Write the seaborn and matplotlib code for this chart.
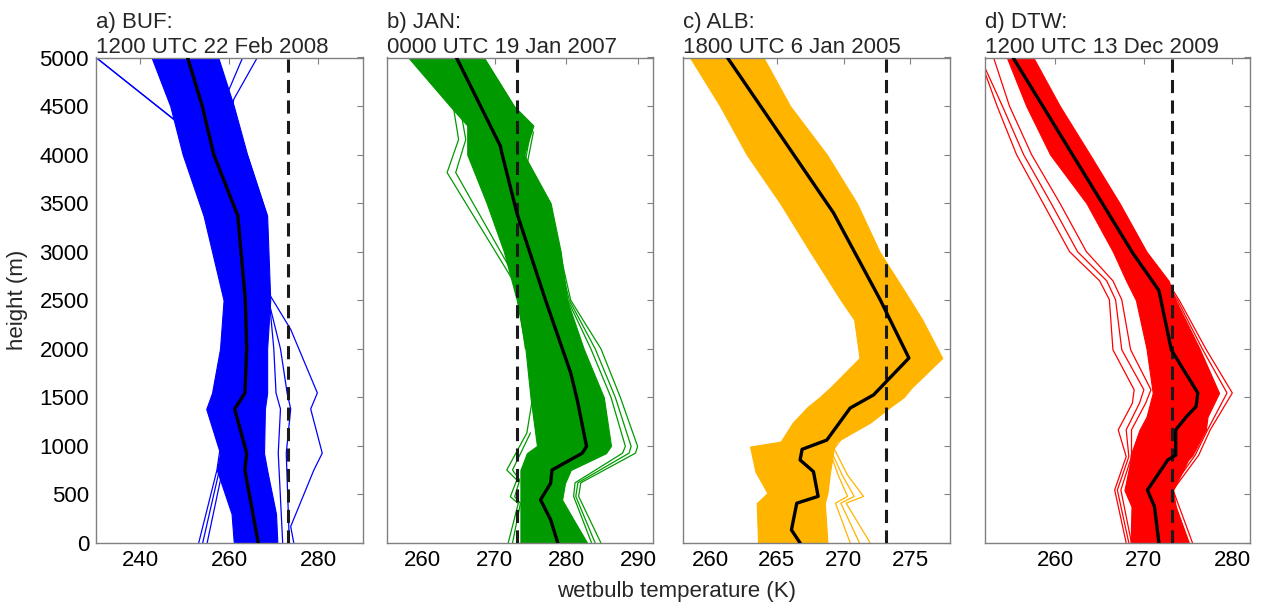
import matplotlib
matplotlib.use("Agg")
import matplotlib.pyplot as plt
import seaborn as sns

# ---------------------------------------------------------------------------
# Ensemble wet-bulb temperature profiles (K) versus height (m) at four sites.
# For each case: ensemble-mean profile, the dense core of the ensemble
# (lower/upper edge), and a few individual members lying outside the core.
# ---------------------------------------------------------------------------

# a) BUF
a_mean_h = [0, 750, 925, 1380, 1545, 2000, 2500, 3370, 4000, 4500, 5000]
a_mean_t = [266.5, 263.5, 263.9, 261.2, 263.5, 263.9, 263.6, 261.9, 256.5, 253.9, 250.6]
a_core_h = [0, 300, 750, 925, 1380, 1545, 2000, 2500, 3370, 4000, 4500, 5000]
a_core_lo = [261.0, 260.5, 257.2, 257.9, 254.8, 256.1, 257.9, 258.7, 254.2, 249.5, 246.7, 242.5]
a_core_hi = [270.8, 270.5, 268.5, 267.8, 268.0, 268.5, 268.5, 269.2, 268.5, 264.0, 261.0, 257.5]
a_members = [
    ([5000, 4300, 4000, 3370], [230.0, 249.3, 251.5, 255.5]),
    ([5000, 4270, 4000, 3370], [230.0, 250.0, 252.5, 256.0]),
    ([0, 170, 750, 925, 1380, 1545, 2200, 2600], [274.5, 273.8, 279.0, 280.9, 278.3, 279.8, 273.8, 268.5]),
    ([0, 750, 1000], [253.1, 257.2, 258.0]),
    ([0, 700, 1000], [254.0, 257.5, 258.5]),
    ([0, 650, 1000], [255.0, 258.0, 259.0]),
    ([0, 925, 1380, 1545, 2000, 2500], [273.5, 272.8, 273.8, 273.0, 271.5, 268.8]),
    ([0, 925, 1380, 1545, 2000, 2500], [272.0, 271.0, 271.5, 270.5, 270.0, 269.0]),
    ([3370, 4000, 4360, 4570, 5000], [268.5, 264.0, 260.2, 261.0, 266.3]),
    ([3370, 4000, 4360, 4570, 5000], [267.5, 263.5, 259.5, 259.0, 263.0]),
]

# b) JAN
b_mean_h = [0, 240, 445, 615, 752, 925, 995, 1475, 1750, 2500, 3400, 4020, 4090, 5000]
b_mean_t = [278.8, 277.8, 276.4, 277.8, 278.0, 282.2, 282.8, 281.5, 280.6, 277.1, 273.1, 271.0, 270.8, 264.7]
b_core_h = [0, 240, 445, 615, 752, 925, 1000, 1500, 2000, 2500, 3000, 3500, 4000, 4300, 4500, 5000]
b_core_lo = [273.6, 273.6, 273.6, 273.6, 273.6, 274.5, 275.9, 275.0, 274.3, 273.1, 271.3, 268.9, 266.2, 266.2, 263.8, 258.0]
b_core_hi = [282.9, 281.0, 279.4, 279.8, 280.6, 285.5, 286.2, 285.2, 282.4, 280.1, 279.2, 277.8, 274.1, 275.4, 272.7, 268.5]
b_members = [
    ([5000, 4570, 4155, 3815, 2640, 2000], [259.5, 264.1, 265.0, 263.4, 273.1, 274.3]),
    ([5000, 4570, 4155, 3815, 2640, 2000], [260.2, 265.0, 266.0, 264.6, 273.6, 274.6]),
    ([0, 408, 477, 649, 752, 1134, 1500], [271.9, 273.3, 272.2, 273.1, 271.7, 274.5, 275.3]),
    ([0, 408, 477, 649, 752, 1134], [272.5, 273.6, 272.8, 273.5, 272.5, 275.0]),
    ([0, 480, 620, 925, 995, 1500, 2000, 2500, 3120, 3815, 4230, 4500, 5000],
     [284.8, 281.7, 282.0, 289.6, 289.9, 287.5, 284.8, 280.6, 278.7, 274.3, 275.4, 272.7, 268.5]),
    ([0, 480, 620, 925, 995, 1500, 2000, 2500, 3120, 3815, 4230, 4500, 5000],
     [284.0, 281.3, 281.6, 288.7, 289.0, 286.8, 284.0, 280.4, 278.3, 274.0, 275.0, 272.3, 268.0]),
    ([0, 480, 620, 925, 995, 1500, 2000, 2500, 3120, 3815, 4230, 4500, 5000],
     [283.5, 281.0, 281.2, 287.8, 288.2, 286.2, 283.4, 280.2, 278.0, 273.8, 274.8, 272.0, 267.5]),
]

# c) ALB
c_mean_h = [0, 135, 410, 480, 735, 855, 965, 1060, 1390, 1525, 1905, 2505, 3400, 5000]
c_mean_t = [266.75, 266.1, 266.5, 268.1, 267.75, 266.75, 266.9, 268.75, 270.5, 272.25, 274.9, 272.75, 269.25, 261.3]
c_core_h = [0, 410, 515, 735, 993, 1045, 1240, 1400, 1500, 1600, 1905, 2300, 2500, 3000, 3500, 4000, 4500, 5000]
c_core_lo = [263.6, 263.5, 264.3, 263.4, 263.0, 265.3, 266.2, 267.3, 268.2, 269.0, 271.2, 270.8, 269.8, 267.5, 265.25, 262.75, 260.75, 258.5]
c_core_hi = [268.8, 268.6, 268.8, 269.0, 269.3, 269.5, 272.0, 273.5, 274.5, 275.1, 277.4, 275.9, 275.0, 272.7, 271.0, 268.75, 266.0, 264.0]
c_members = [
    ([0, 410, 480, 700, 970, 1100], [272.0, 270.2, 271.5, 270.3, 269.3, 270.0]),
    ([0, 410, 480, 700, 970, 1100], [271.2, 269.8, 270.8, 269.9, 269.0, 269.8]),
    ([0, 410, 480, 700, 970], [270.5, 269.4, 270.3, 269.6, 268.9]),
]

# d) DTW
d_mean_h = [0, 375, 545, 855, 905, 1165, 1300, 1405, 1545, 1990, 2600, 2745, 2985, 5000]
d_mean_t = [271.7, 271.2, 270.4, 272.7, 273.6, 273.6, 274.8, 275.9, 276.1, 273.1, 271.7, 270.6, 268.75, 255.2]
d_core_h = [0, 375, 545, 855, 905, 1165, 1300, 1545, 2000, 2500, 2700, 3000, 3500, 4000, 4500, 5000]
d_core_lo = [268.5, 268.6, 267.8, 268.5, 268.5, 269.5, 270.3, 271.0, 270.3, 269.1, 268.0, 266.5, 263.5, 259.4, 256.7, 254.5]
d_core_hi = [275.1, 273.6, 273.3, 275.0, 275.5, 277.0, 277.2, 278.5, 276.3, 273.6, 272.8, 270.3, 267.25, 263.9, 260.5, 257.5]
d_members = [
    ([0, 546, 890, 1165, 1440, 1578, 1990, 2505, 2700, 3000, 3500, 4000, 4500, 4850],
     [268.0, 266.7, 268.0, 267.1, 268.7, 268.9, 266.5, 266.1, 265.0, 261.6, 258.6, 255.6, 253.4, 252.0]),
    ([0, 546, 890, 1165, 1440, 1578, 1990, 2505, 2700, 3000, 3500, 4000, 4500, 4900],
     [268.3, 267.0, 268.3, 268.0, 269.5, 270.0, 267.5, 266.8, 265.8, 262.5, 259.5, 256.4, 254.0, 252.0]),
    ([0, 546, 890, 1165, 1440, 1578, 1990, 2505, 2700, 3000, 3500, 4000, 4500, 5000],
     [268.6, 267.4, 268.6, 268.6, 270.2, 270.8, 268.5, 267.5, 266.5, 263.5, 260.5, 257.3, 254.8, 253.0]),
    ([0, 546, 905, 1165, 1545, 2000, 2500, 2745],
     [275.5, 273.3, 276.2, 277.5, 280.0, 277.0, 274.0, 272.3]),
    ([0, 546, 905, 1165, 1545, 2000, 2500, 2745],
     [275.0, 273.0, 275.8, 277.2, 279.4, 276.6, 273.8, 272.0]),
]

titles = ["a) BUF:\n1200 UTC 22 Feb 2008",
          "b) JAN:\n0000 UTC 19 Jan 2007",
          "c) ALB:\n1800 UTC 6 Jan 2005",
          "d) DTW:\n1200 UTC 13 Dec 2009"]
colors = ["#0000ff", "#009a00", "#ffb400", "#ff0000"]
xlims = [(230, 290), (255, 292), (258, 278), (252, 282)]
xticks = [[240, 260, 280], [260, 270, 280, 290], [260, 265, 270, 275], [260, 270, 280]]
yticks = list(range(0, 5001, 500))
freezing_k = 273.15

panels = [
    (a_mean_h, a_mean_t, a_core_h, a_core_lo, a_core_hi, a_members),
    (b_mean_h, b_mean_t, b_core_h, b_core_lo, b_core_hi, b_members),
    (c_mean_h, c_mean_t, c_core_h, c_core_lo, c_core_hi, c_members),
    (d_mean_h, d_mean_t, d_core_h, d_core_lo, d_core_hi, d_members),
]

sns.set_theme(style="white")
plt.rcParams["font.family"] = ["Liberation Sans", "DejaVu Sans"]
FS = 16

W, H = 1262, 607
fig = plt.figure(figsize=(W / 100, H / 100), dpi=100)

# axes boxes in pixels: left, right
boxes = [(96, 362.7), (386.7, 652.7), (683.3, 950.3), (984.7, 1250)]
top_px, bot_px = 57.5, 543

for i, (box, panel) in enumerate(zip(boxes, panels)):
    mh, mt, ch, clo, chi, members = panel
    l, r = box
    ax = fig.add_axes([l / W, 1 - bot_px / H, (r - l) / W, (bot_px - top_px) / H])
    col = colors[i]

    # dense core of the ensemble
    ax.fill_betweenx(ch, clo, chi, color=col, lw=0.8, zorder=1)
    # individual members outside the core
    for hh, tt in members:
        sns.lineplot(x=tt, y=hh, sort=False, estimator=None, color=col,
                     lw=0.9, ax=ax, zorder=2)
    # 0 degC reference
    ax.axvline(freezing_k, color="k", lw=2.2, ls=(0, (4.3, 2.4)), zorder=3)
    # ensemble mean
    sns.lineplot(x=mt, y=mh, sort=False, estimator=None, color="black",
                 lw=2.4, ax=ax, zorder=4)

    ax.set_xlim(*xlims[i])
    ax.set_ylim(0, 5000)
    ax.set_xticks(xticks[i])
    ax.set_yticks(yticks)
    ax.set_xlabel("")
    ax.set_ylabel("")
    ax.tick_params(direction="in", top=True, right=True, length=4, width=0.8,
                   color="#808080", labelsize=FS, labelcolor="black", pad=5)
    if i > 0:
        ax.tick_params(labelleft=False)
    for s in ax.spines.values():
        s.set_visible(True)
        s.set_color("#808080")
        s.set_linewidth(1.0)
    ax.set_title(titles[i], loc="left", fontsize=FS, pad=3, linespacing=1.3)

fig.text(677 / W, 1 - 592 / H, "wetbulb temperature (K)", ha="center",
         va="center", fontsize=FS)
fig.text(18 / W, 1 - 300 / H, "height (m)", ha="center", va="center",
         rotation=90, fontsize=FS)

fig.savefig("out.png", dpi=100, facecolor="white")
